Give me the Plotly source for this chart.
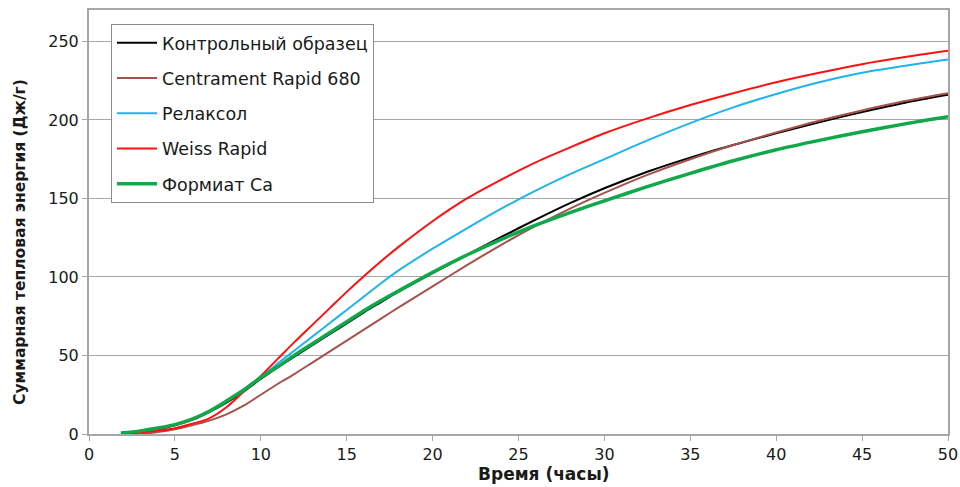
import plotly.graph_objects as go

# ---- data ----
t_control = [2, 3, 4, 5, 6, 7, 8, 9, 10, 11, 12, 13, 14, 15, 16, 17, 18, 20, 22, 24, 26, 28, 30, 32.5, 35, 37.5, 40, 42.5, 45, 47.5, 50]
v_control = [0.5, 1.5, 3, 5.5, 9, 14, 20, 27, 35, 42.5, 49.5, 56.5, 63.5, 70.5, 77.5, 84, 90.5, 102.5, 114, 125.5, 136.5, 147, 156.5, 167, 176, 184, 191.5, 198.5, 205, 211, 216]

t_centrament = [3, 4, 5, 6, 7, 8, 9, 10, 11, 12, 13, 14, 15, 16, 17, 18, 20, 22, 24, 26, 28, 30, 32.5, 35, 37.5, 40, 42.5, 45, 47.5, 50]
v_centrament = [0, 1.2, 3, 5.5, 8.5, 12.5, 18, 25, 32, 38.5, 45.5, 52.5, 59.5, 66.5, 73.5, 80.5, 94, 107.5, 120.5, 132.5, 143.5, 153.5, 165, 175, 184, 192, 199.5, 206, 212, 217]

t_relaxol = [2, 3, 4, 5, 6, 7, 8, 9, 10, 11, 12, 13, 14, 15, 16, 17, 18, 20, 22, 24, 26, 28, 30, 32.5, 35, 37.5, 40, 42.5, 45, 47.5, 50]
v_relaxol = [0.6, 1.8, 3.5, 5.8, 9.5, 14.5, 21, 28, 36, 45, 53.5, 62, 70.5, 79, 87.5, 96, 104, 118, 131, 143.5, 155, 165.5, 175, 187, 198, 208, 216.5, 224, 230, 234.5, 238.5]

t_weiss = [2.5, 3, 4, 5, 6, 7, 8, 9, 10, 11, 12, 13, 14, 15, 16, 17, 18, 20, 22, 24, 26, 28, 30, 32.5, 35, 37.5, 40, 42.5, 45, 47.5, 50]
v_weiss = [0.3, 0.8, 2, 3.6, 6.5, 10, 17, 27, 37, 48, 59, 69.5, 80, 90.5, 100.5, 110, 119, 135.5, 150, 162, 173, 182.5, 191.5, 201, 209.5, 217, 224, 230, 235.5, 240, 244]

t_formiate = [1.85, 3, 4, 5, 6, 7, 8, 9, 10, 11, 12, 13, 14, 15, 16, 17, 18, 20, 22, 24, 26, 28, 30, 32.5, 35, 37.5, 40, 42.5, 45, 47.5, 50]
v_formiate = [0.6, 2, 3.8, 6, 9.5, 14.5, 21, 28, 36, 43, 50.5, 57.5, 64.5, 71.5, 78.5, 85, 91, 103, 114, 124, 133, 141, 148.5, 157.5, 166, 174, 181, 187, 192.5, 197.5, 202]

names = ["Контрольный образец", "Centrament Rapid 680", "Релаксол", "Weiss Rapid", "Формиат Ca"]
x_ticks = [0, 5, 10, 15, 20, 25, 30, 35, 40, 45, 50]
y_ticks = [0, 50, 100, 150, 200, 250]
x_title = "Время (часы)"
y_title = "Суммарная тепловая энергия (Дж/г)"

series = [
    (t_control, v_control, "#000000", 2),
    (t_centrament, v_centrament, "#A5524C", 2),
    (t_relaxol, v_relaxol, "#1EB4EE", 2),
    (t_weiss, v_weiss, "#FF1010", 2),
    (t_formiate, v_formiate, "#10A84A", 3.5),
]

FONT = "DejaVu Sans, Liberation Sans, Arial, sans-serif"

fig = go.Figure()
for i, ((tx, vy, col, w), nm) in enumerate(zip(series, names)):
    fig.add_trace(go.Scatter(
        x=tx, y=vy, name=nm, mode="lines",
        line=dict(color=col, width=w, shape="spline", smoothing=0.8),
        legendgroup=f"g{i}",
    ))

axis_common = dict(
    showline=True, linecolor="#A6A6A6", linewidth=2, mirror=True,
    ticks="outside", tickcolor="#A6A6A6", ticklen=5, tickwidth=1,
    tickfont=dict(family=FONT, size=16, color="#1a1a1a"),
    zeroline=False, automargin=False,
)

fig.update_layout(
    width=960, height=487,
    margin=dict(l=89, r=12, t=10, b=53),
    paper_bgcolor="white", plot_bgcolor="white",
    font=dict(family=FONT, color="#1a1a1a"),
    showlegend=True,
    legend=dict(
        x=0.0256, y=0.967, xanchor="left", yanchor="top",
        bgcolor="white", bordercolor="#8C8C8C", borderwidth=1,
        font=dict(family=FONT, size=17.5, color="#1a1a1a"),
        traceorder="grouped", tracegroupgap=9.5, itemwidth=40,
    ),
    xaxis=dict(range=[0, 50], tickvals=x_ticks, showgrid=False, **axis_common),
    yaxis=dict(range=[0, 270], tickvals=y_ticks, showgrid=True,
               gridcolor="#A6A6A6", gridwidth=1, **axis_common),
    annotations=[
        dict(text=f"<b>{x_title}</b>", xref="paper", yref="paper",
             x=0.53, y=-40 / 424, xanchor="center", yanchor="middle",
             showarrow=False, font=dict(family=FONT, size=17, color="#1a1a1a")),
        dict(text=f"<b>{y_title}</b>", xref="paper", yref="paper",
             x=-69 / 859, y=0.453, xanchor="center", yanchor="middle", textangle=-90,
             showarrow=False, font=dict(family=FONT, size=15.5, color="#1a1a1a")),
    ],
)

fig.write_html("out.html")
